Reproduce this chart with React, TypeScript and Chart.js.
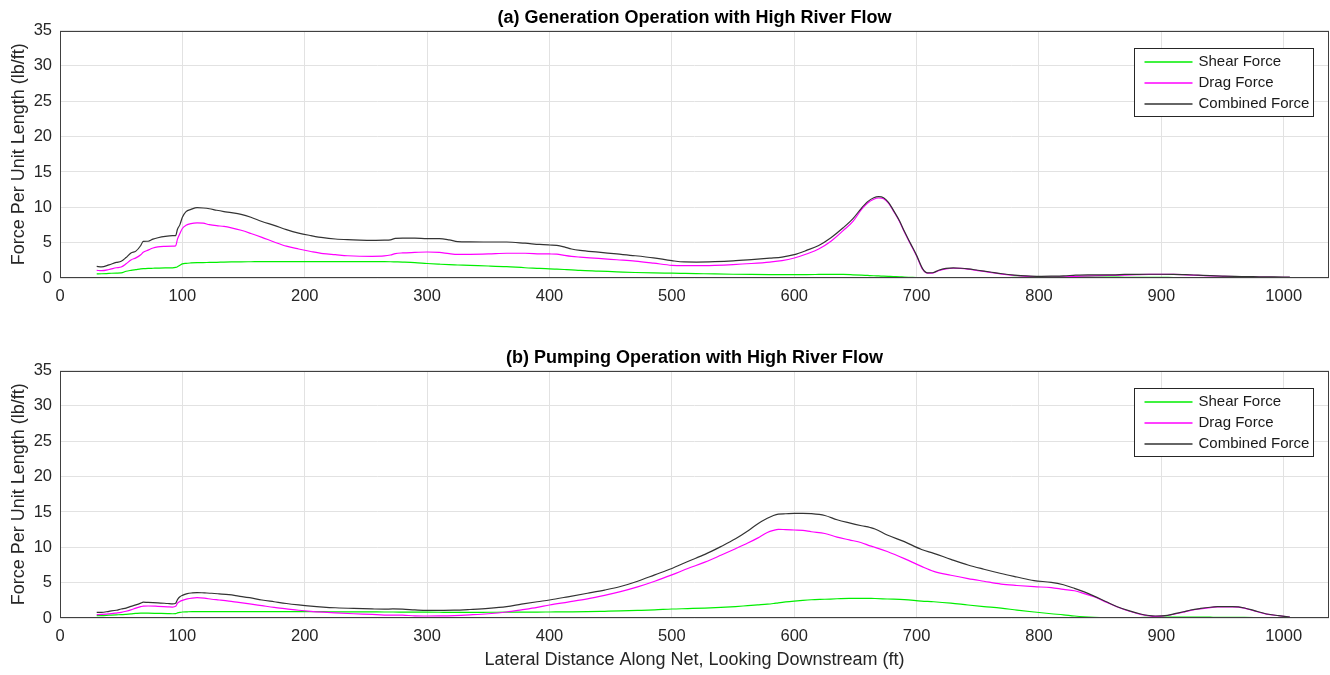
import { useEffect, useRef } from "react";
import { Chart, registerables } from "chart.js";

Chart.register(...registerables);

const FONT = "'Liberation Sans', Arial, Helvetica, sans-serif";

// ---------- labels ----------
const titleGen = "(a) Generation Operation with High River Flow";
const titlePump = "(b) Pumping Operation with High River Flow";
const yAxisLabel = "Force Per Unit Length (lb/ft)";
const xAxisLabel = "Lateral Distance Along Net, Looking Downstream (ft)";
const seriesNames = ["Shear Force", "Drag Force", "Combined Force"];
const seriesColors = ["#00ee00", "#ff00ff", "#333333"];

// ---------- axes ----------
const xMin = 0;
const xMax = 1037;
const xStep = 100;
const yMin = 0;
const yMax = 35;
const yStep = 5;

// ---------- (a) generation operation ----------
const genX = [
  30, 34, 40, 46, 50, 54, 58, 62, 66, 68,
  72, 76, 80, 86, 92, 94.5, 96, 98, 100, 103,
  107, 112, 117, 122, 128, 134, 140, 148, 156, 165,
  175, 185, 195, 205, 215, 225, 235, 245, 255, 265,
  270, 274, 280, 290, 300, 310, 318, 325, 335, 350,
  365, 380, 392, 400, 406, 412, 418, 425, 440, 455,
  470, 485, 500, 510, 520, 535, 550, 565, 580, 590,
  600, 610, 620, 630, 640, 648, 655, 660, 665, 669,
  673, 677, 681, 686, 690, 695, 700, 705, 709, 713,
  718, 724, 730, 736, 742, 750, 760, 770, 780, 790,
  800, 810, 820, 830, 840, 850, 860, 870, 880, 890,
  900, 910, 920, 930, 940, 950, 960, 970, 980, 990,
  1000, 1005,
];
const genShear = [
  0.57, 0.6, 0.65, 0.7, 0.72, 0.95, 1.08, 1.18, 1.28, 1.32,
  1.36, 1.38, 1.4, 1.42, 1.43, 1.5, 1.6, 1.8, 2.0, 2.08,
  2.13, 2.17, 2.18, 2.2, 2.22, 2.25, 2.27, 2.29, 2.3, 2.31,
  2.31, 2.31, 2.31, 2.31, 2.31, 2.31, 2.31, 2.31, 2.31, 2.31,
  2.3, 2.28, 2.25, 2.18, 2.05, 1.95, 1.88, 1.84, 1.78, 1.7,
  1.6, 1.45, 1.37, 1.3, 1.25, 1.2, 1.15, 1.08, 0.98, 0.88,
  0.78, 0.72, 0.68, 0.65, 0.62, 0.57, 0.53, 0.5, 0.48, 0.47,
  0.47, 0.48, 0.5, 0.52, 0.5, 0.45, 0.4, 0.36, 0.32, 0.29,
  0.26, 0.23, 0.2, 0.17, 0.13, 0.1, 0.07, 0.05, 0.04, 0.04,
  0.04, 0.04, 0.04, 0.04, 0.04, 0.04, 0.05, 0.06, 0.08, 0.1,
  0.12, 0.14, 0.15, 0.15, 0.15, 0.13, 0.12, 0.1, 0.09, 0.08,
  0.08, 0.07, 0.07, 0.06, 0.06, 0.06, 0.05, 0.05, 0.05, 0.05,
  0.05, 0.05,
];
const genDrag = [
  1.08, 1.04, 1.2, 1.45, 1.56, 2.0, 2.55, 2.85, 3.3, 3.63,
  3.95, 4.25, 4.4, 4.48, 4.52, 4.55, 5.5, 6.3, 7.0, 7.45,
  7.7, 7.8, 7.75, 7.55, 7.4, 7.3, 7.1, 6.75, 6.3, 5.75,
  5.1, 4.5, 4.1, 3.75, 3.45, 3.3, 3.15, 3.08, 3.07, 3.12,
  3.25, 3.45, 3.55, 3.62, 3.68, 3.63, 3.45, 3.35, 3.35, 3.4,
  3.5, 3.5, 3.42, 3.4, 3.38, 3.2, 3.05, 2.95, 2.78, 2.58,
  2.38, 2.1, 1.79, 1.75, 1.75, 1.8, 1.9, 2.05, 2.25, 2.45,
  2.83, 3.4, 4.1, 5.2, 6.7, 8.0, 9.7, 10.6, 11.15, 11.32,
  11.2, 10.6, 9.5, 8.0, 6.5, 4.8, 3.1, 1.2, 0.68, 0.7,
  1.05, 1.3, 1.38, 1.35, 1.25, 1.05, 0.8, 0.55, 0.35, 0.22,
  0.15, 0.14, 0.16, 0.22, 0.3, 0.35, 0.38, 0.42, 0.47, 0.5,
  0.5, 0.5, 0.45, 0.38, 0.3, 0.24, 0.19, 0.16, 0.13, 0.11,
  0.1, 0.1,
];
const genCombined = [
  1.65, 1.56, 1.85, 2.2, 2.36, 2.9, 3.55, 3.8, 4.6, 5.19,
  5.2, 5.5, 5.7, 5.9, 6.0, 6.0, 6.9, 7.55, 8.6, 9.4,
  9.7, 9.95, 9.9, 9.8, 9.58, 9.4, 9.25, 9.0, 8.6, 8.0,
  7.45, 6.84, 6.35, 6.0, 5.7, 5.52, 5.42, 5.36, 5.33, 5.35,
  5.4, 5.6, 5.65, 5.65, 5.57, 5.57, 5.4, 5.15, 5.1, 5.09,
  5.09, 4.92, 4.75, 4.67, 4.62, 4.4, 4.1, 3.9, 3.65, 3.4,
  3.15, 2.85, 2.45, 2.27, 2.26, 2.31, 2.42, 2.6, 2.8, 2.95,
  3.3, 3.9, 4.6, 5.7, 7.1, 8.4, 9.9, 10.8, 11.35, 11.5,
  11.35, 10.7, 9.6, 8.1, 6.6, 4.9, 3.2, 1.3, 0.72, 0.74,
  1.1, 1.35, 1.42, 1.38, 1.3, 1.1, 0.85, 0.6, 0.42, 0.3,
  0.24, 0.26, 0.3, 0.4, 0.45, 0.45, 0.45, 0.5, 0.52, 0.53,
  0.53, 0.52, 0.47, 0.4, 0.33, 0.27, 0.22, 0.2, 0.17, 0.15,
  0.14, 0.13,
];

// ---------- (b) pumping operation ----------
const pumpX = [
  30, 34, 40, 46, 50, 54, 58, 62, 66, 68,
  72, 80, 88, 92, 94.5, 96, 98, 100, 104, 108,
  112, 118, 124, 130, 138, 146, 155, 165, 175, 185,
  195, 205, 215, 225, 240, 255, 265, 272, 280, 290,
  300, 310, 322, 335, 350, 365, 377, 390, 400, 415,
  431, 445, 458, 472, 486, 500, 513, 527, 540, 552,
  562, 570, 578, 583, 587, 593, 600, 607, 614, 625,
  635, 645, 655, 662, 666, 676, 690, 704, 714, 728,
  742, 755, 769, 782, 796, 810, 820, 829, 837, 845,
  855, 864, 874, 883, 890, 895, 900, 905, 912, 918,
  924, 932, 940, 946, 952, 958, 963, 968, 976, 986,
  996, 1005,
];
const pumpShear = [
  0.33, 0.35, 0.4, 0.45, 0.47, 0.52, 0.58, 0.65, 0.7, 0.7,
  0.68, 0.65, 0.62, 0.6, 0.62, 0.72, 0.8, 0.85, 0.88, 0.9,
  0.9, 0.9, 0.9, 0.9, 0.9, 0.9, 0.9, 0.9, 0.9, 0.9,
  0.9, 0.9, 0.89, 0.88, 0.87, 0.86, 0.85, 0.85, 0.84, 0.83,
  0.82, 0.81, 0.8, 0.8, 0.81, 0.82, 0.83, 0.84, 0.85, 0.87,
  0.9, 0.95, 1.0, 1.07, 1.15, 1.27, 1.33, 1.4, 1.5, 1.62,
  1.75, 1.85, 1.95, 2.05, 2.15, 2.28, 2.4, 2.5, 2.58, 2.65,
  2.72, 2.78, 2.78, 2.77, 2.76, 2.69, 2.6, 2.4, 2.3, 2.1,
  1.84, 1.62, 1.4, 1.12, 0.85, 0.6, 0.45, 0.28, 0.17, 0.1,
  0.05, 0.04, 0.04, 0.06, 0.1, 0.12, 0.14, 0.14, 0.13, 0.13,
  0.12, 0.12, 0.11, 0.1, 0.1, 0.1, 0.09, 0.08, 0.07, 0.06,
  0.05, 0.05,
];
const pumpDrag = [
  0.47, 0.5, 0.57, 0.7, 0.8, 0.95, 1.15, 1.4, 1.6, 1.68,
  1.7, 1.65, 1.58, 1.55, 1.65, 2.1, 2.35, 2.5, 2.7, 2.82,
  2.87, 2.8, 2.65, 2.55, 2.4, 2.2, 2.0, 1.75, 1.5, 1.3,
  1.1, 0.94, 0.82, 0.72, 0.6, 0.5, 0.42, 0.42, 0.4, 0.3,
  0.28, 0.3, 0.35, 0.45, 0.6, 0.85, 1.15, 1.5, 1.84, 2.25,
  2.7, 3.2, 3.73, 4.4, 5.2, 6.1, 7.0, 7.9, 8.87, 9.8,
  10.6, 11.3, 12.1, 12.4, 12.55, 12.5, 12.45, 12.4, 12.2, 11.95,
  11.45, 11.05, 10.65, 10.2, 10.0, 9.4, 8.4, 7.3, 6.6, 6.05,
  5.58, 5.2, 4.8, 4.6, 4.43, 4.3, 4.05, 3.85, 3.45, 3.0,
  2.25, 1.55, 0.95, 0.52, 0.3, 0.22, 0.26, 0.35, 0.6, 0.83,
  1.08, 1.3, 1.48, 1.56, 1.58, 1.58, 1.55, 1.4, 1.0, 0.55,
  0.32, 0.12,
];
const pumpCombined = [
  0.8, 0.8, 0.95, 1.1, 1.27, 1.4, 1.65, 1.85, 2.1, 2.25,
  2.2, 2.15, 2.05, 2.0, 2.1, 2.6, 3.0, 3.2, 3.45, 3.55,
  3.6, 3.55, 3.5, 3.42, 3.3, 3.1, 2.87, 2.55, 2.3, 2.05,
  1.85, 1.68, 1.55, 1.45, 1.35, 1.28, 1.25, 1.28, 1.25, 1.15,
  1.08, 1.08, 1.1, 1.2, 1.35, 1.6, 1.95, 2.3, 2.55, 3.0,
  3.5, 3.95, 4.45, 5.2, 6.1, 7.0, 8.0, 9.0, 10.1, 11.2,
  12.3, 13.3, 14.1, 14.5, 14.7, 14.75, 14.8, 14.8, 14.76, 14.5,
  13.9, 13.45, 13.05, 12.8, 12.6, 11.75, 10.8, 9.7, 9.15, 8.3,
  7.5, 6.9, 6.3, 5.8, 5.28, 5.05, 4.7, 4.2, 3.7, 3.1,
  2.3, 1.6, 1.0, 0.57, 0.35, 0.28, 0.3, 0.38, 0.65, 0.88,
  1.13, 1.35, 1.52, 1.6, 1.62, 1.62, 1.58, 1.42, 1.04, 0.57,
  0.33, 0.14,
];

// ---------- plugins ----------
const frameAndLegend = {
  id: "frameAndLegend",
  afterDatasetsDraw(chart: any) {
    const { ctx, chartArea: ca } = chart;
    ctx.save();
    // axes box
    ctx.strokeStyle = "#404040";
    ctx.lineWidth = 1;
    ctx.strokeRect(
      Math.round(ca.left) + 0.5,
      Math.round(ca.top) + 0.5,
      Math.round(ca.right) - Math.round(ca.left) - 1,
      Math.round(ca.bottom) - Math.round(ca.top) - 1
    );
    // legend box
    const bx = Math.round(ca.right - 195) + 0.5;
    const by = Math.round(ca.top + 17) + 0.5;
    const bw = 179;
    const bh = 68;
    ctx.fillStyle = "#ffffff";
    ctx.fillRect(bx, by, bw, bh);
    ctx.strokeStyle = "#262626";
    ctx.strokeRect(bx, by, bw, bh);
    ctx.font = `15px ${FONT}`;
    ctx.textBaseline = "middle";
    ctx.textAlign = "left";
    chart.data.datasets.forEach((ds: any, i: number) => {
      const ry = Math.round(by + 13.5 + i * 21);
      ctx.strokeStyle = ds.borderColor;
      ctx.lineWidth = 1.3;
      ctx.beginPath();
      ctx.moveTo(bx + 10, ry);
      ctx.lineTo(bx + 58, ry);
      ctx.stroke();
      ctx.fillStyle = "#1a1a1a";
      ctx.fillText(ds.label, bx + 64, ry);
    });
    ctx.restore();
  },
};

function makeDatasets(xs: number[], shear: number[], drag: number[], comb: number[]) {
  const ys = [shear, drag, comb];
  return ys.map((vals, k) => ({
    label: seriesNames[k],
    data: xs.slice(0, vals.length).map((x, i) => ({ x, y: vals[i] })),
    borderColor: seriesColors[k],
    backgroundColor: seriesColors[k],
    borderWidth: 1.2,
    pointRadius: 0,
    fill: false,
    cubicInterpolationMode: "monotone" as const,
    order: 3 - k,
  }));
}

function makeConfig(title: string, datasets: any[], showXTitle: boolean) {
  return {
    type: "line" as const,
    data: { datasets },
    plugins: [frameAndLegend],
    options: {
      animation: false as const,
      responsive: false,
      devicePixelRatio: 1,
      layout: { padding: { left: 0, right: 1, top: 0, bottom: 0 } },
      plugins: {
        legend: { display: false },
        tooltip: { enabled: false },
        title: {
          display: true,
          text: title,
          fullSize: false,
          color: "#000000",
          font: { family: FONT, size: 18, weight: "bold" as const },
          padding: { top: 7, bottom: 2 },
        },
      },
      scales: {
        x: {
          type: "linear" as const,
          min: xMin,
          max: xMax,
          ticks: {
            stepSize: xStep,
            includeBounds: false,
            color: "#262626",
            font: { family: FONT, size: 16.5 },
            padding: 9,
            maxRotation: 0,
            callback: (v: any) => String(v),
          },
          grid: { color: "#e2e2e2", drawTicks: false },
          border: { display: false },
          title: {
            display: showXTitle,
            text: xAxisLabel,
            color: "#262626",
            font: { family: FONT, size: 18 },
            padding: { top: 0, bottom: 4 },
          },
          afterFit: (s: any) => {
            s.height = 57;
          },
        },
        y: {
          type: "linear" as const,
          min: yMin,
          max: yMax,
          ticks: {
            stepSize: yStep,
            color: "#262626",
            font: { family: FONT, size: 16.5 },
            padding: 8,
            callback: (v: any) => String(v),
          },
          grid: { color: "#e2e2e2", drawTicks: false },
          border: { display: false },
          title: {
            display: true,
            text: yAxisLabel,
            color: "#262626",
            font: { family: FONT, size: 18 },
            padding: { top: 8, bottom: 0 },
          },
          afterFit: (s: any) => {
            s.width = 60;
          },
        },
      },
    },
  };
}

function Panel({ top, config }: { top: number; config: any }) {
  const ref = useRef<HTMLCanvasElement | null>(null);
  useEffect(() => {
    if (!ref.current) return;
    const chart = new Chart(ref.current, config);
    return () => chart.destroy();
  }, [config]);
  return (
    <canvas
      ref={ref}
      width={1330}
      height={335}
      style={{ position: "absolute", left: 0, top, width: 1330, height: 335, display: "block" }}
    />
  );
}

const genConfig = makeConfig(titleGen, makeDatasets(genX, genShear, genDrag, genCombined), false);
const pumpConfig = makeConfig(titlePump, makeDatasets(pumpX, pumpShear, pumpDrag, pumpCombined), true);

export default function App() {
  return (
    <div
      style={{
        position: "absolute",
        left: 0,
        top: 0,
        width: 1330,
        height: 675,
        background: "#ffffff",
        overflow: "hidden",
      }}
    >
      <Panel top={0} config={genConfig} />
      <Panel top={340} config={pumpConfig} />
    </div>
  );
}
